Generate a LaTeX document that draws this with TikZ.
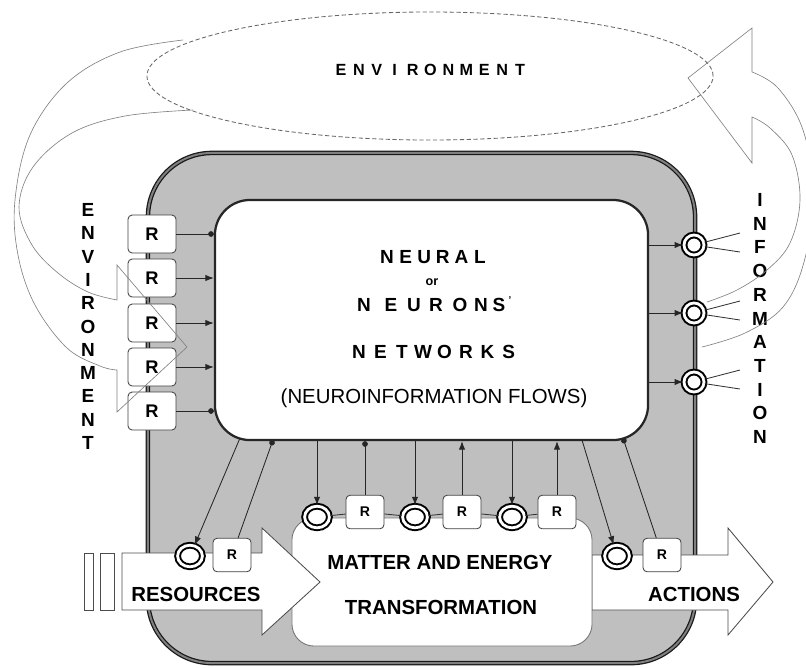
\documentclass[tikz,border=0pt]{standalone}
\usepackage{fontspec}
\setmainfont{Liberation Sans}
\usetikzlibrary{positioning,shapes.geometric,arrows.meta}
\tikzset{
  cell/.style={draw=black!90, line width=0.9pt, double=black!50, double distance=1.4pt,
    fill=black!25, rounded corners=1.6cm, minimum width=13.675cm, minimum height=12.75cm},
  netbox/.style={draw=black!85, line width=1.6pt, fill=white, rounded corners=0.875cm,
    minimum width=10.825cm, minimum height=6cm},
  matterbox/.style={draw=black!55, line width=0.6pt, fill=white, rounded corners=0.55cm,
    minimum width=7.5cm, minimum height=3.2cm},
  rbox/.style={draw=black!75, line width=0.6pt, fill=white, rounded corners=3pt, inner sep=0pt,
    minimum width=1.2cm, minimum height=0.95cm, font=\bfseries\fontsize{13}{13}\selectfont},
  rsmall/.style={rbox, minimum width=0.95cm, minimum height=0.84cm,
    font=\bfseries\fontsize{10}{10}\selectfont},
  soma/.style={ellipse, draw=black, line width=1.4pt, double=white, double distance=2pt,
    fill=white, minimum width=0.62cm, minimum height=0.54cm, inner sep=0pt},
  outsoma/.style={soma, circle, minimum size=0.5cm},
  arrowbody/.style={draw=black!70, line width=0.6pt, fill=white},
  sig/.style={draw=black!85, line width=0.6pt, -{Latex[length=6pt,width=4.5pt]}},
  syn/.style={draw=black!85, line width=0.6pt, -{Circle[length=4pt]}},
  synstart/.style={draw=black!85, line width=0.6pt, {Circle[length=4pt]}-},
  wire/.style={draw=black!80, line width=0.6pt},
  letter/.style={inner sep=0pt, font=\bfseries\fontsize{13.5}{13.5}\selectfont},
  smallletter/.style={inner sep=0pt, font=\bfseries\fontsize{11.5}{11.5}\selectfont},
  biglabel/.style={inner sep=0pt, font=\bfseries\fontsize{14.5}{15}\selectfont},
  loopline/.style={draw=black!50, line width=0.45pt},
}
\begin{document}
\begin{tikzpicture}[x=0.025cm, y=-0.025cm]
    \useasboundingbox (0,0) rectangle (806,667);
    \def\rowSoma{517}
    \def\rowR{512}
    % environment ring
    \node[ellipse, draw=black!60, line width=0.6pt, dash pattern=on 3pt off 1.8pt,
      minimum width=14.15cm, minimum height=3.2cm] (env) at (430,76) {};
    \foreach \ch [count=\i from 0] in {E,N,V,I,R,O,N,M,E,N,T}
        \node[smallletter] (envt\i) at (341+17.9*\i,70) {\ch};
    % cell and its parts
    \node[cell] (cell) at (421.5,408) {};
    \node[netbox] (nn) at (431.5,320) {};
    \node[matterbox] (mat) at (442,582) {};
    % resources and actions
    \draw[arrowbody] (84,553) rectangle (93,610);
    \draw[arrowbody] (100,553) rectangle (114,610);
    \draw[arrowbody] (122,553) -- (262,553) -- (262,528) -- (320,582) -- (262,635)
        -- (262,610) -- (122,610) -- cycle;
    \fill[white] (593,555) -- (728,555) -- (728,528) -- (773,582) -- (728,635)
        -- (728,610) -- (593,610) -- cycle;
    \draw[arrowbody, fill=none] (592,555) -- (728,555) -- (728,528) -- (773,582)
        -- (728,635) -- (728,610) -- (592,610);
    \node[soma] (rc) at (190,556) {};
    \node[rsmall] (rr) at (232,555) {R};
    \node[soma] (ac) at (617,556) {};
    \node[rsmall] (ar) at (662,555) {R};
    % receptors on the left
    \foreach \i/\yy in {1/234, 2/278, 3/323, 4/367, 5/411}
        \node[rbox] (in\i) at (152,\yy) {R};
    \draw[syn] (in1) -- (in1 -| nn.west);
    \draw[sig] (in2) -- (in2 -| nn.west);
    \draw[sig] (in3) -- (in3 -| nn.west);
    \draw[sig] (in4) -- (in4 -| nn.west);
    \draw[syn] (in5) -- (in5 -| nn.west);
    % outputs on the right
    \foreach \i/\yy in {1/245, 2/313, 3/382} {
        \node[outsoma] (g\i) at (694,\yy) {};
        \coordinate (fa\i) at (740,\yy-12);
        \coordinate (fb\i) at (740,\yy+7);
        \draw[sig] (g\i -| nn.east) -- (g\i);
        \draw[wire] (g\i) -- (fa\i);
        \draw[wire] (g\i) -- (fb\i);
    }
    % row on the transformation box
    \foreach \i/\cx/\rx in {1/317/365, 2/415/462, 3/512/557} {
        \node[soma] (c\i) at (\cx,\rowSoma) {};
        \node[rsmall] (r\i) at (\rx,\rowR) {R};
    }
    \foreach \a/\b in {c1/r1, r1/c2, c2/r2, r2/c3, c3/r3}
        \draw[wire] (\a) -- (\b);
    \foreach \i in {1,2,3}
        \draw[sig] (c\i |- nn.south) -- (c\i);
    \draw[syn] (r1) -- (r1 |- nn.south);
    \draw[sig] (r2) -- (r2 |- nn.south);
    \draw[sig] (r3) -- (r3 |- nn.south);
    % diagonal links
    \coordinate (dl1) at (240,438);
    \coordinate (dl2) at (273,440);
    \coordinate (dr1) at (582,440);
    \coordinate (dr2) at (623,438);
    \draw[sig] (dl1) -- (rc);
    \draw[synstart] (dl2) -- (rr);
    \draw[sig] (dr1) -- (ac);
    \draw[synstart] (dr2) -- (ar);
    % texts
    \foreach \ch [count=\i from 0] in {N,E,U,R,A,L}
        \node[letter] (nl\i) at (387+18.6*\i,257) {\ch};
    \node[inner sep=0pt, font=\bfseries\fontsize{9}{9}\selectfont] (ortxt) at (432,282) {or};
    \foreach \ch/\xx [count=\i] in {N/364, E/391, U/414, R/436, O/460, N/481, S/499}
        \node[letter] (ns\i) at (\xx,305) {\ch};
    \node[inner sep=0pt, font=\bfseries\fontsize{7}{7}\selectfont] (apos) at (510,300) {'};
    \foreach \ch [count=\i from 0] in {N,E,T,W,O,R,K,S}
        \node[letter] (nw\i) at (359+21.4*\i,352) {\ch};
    \node[inner sep=0pt, font=\fontsize{14.5}{15}\selectfont] (flowtxt) at (434,398)
        {(NEUROINFORMATION FLOWS)};
    \node[biglabel] (mattxt) at (440,562) {MATTER AND ENERGY};
    \node[biglabel] (transtxt) at (441,607) {TRANSFORMATION};
    \node[biglabel] (restxt) at (196,594) {RESOURCES};
    \node[biglabel] (acttxt) at (694,594) {ACTIONS};
    \foreach \ch [count=\i from 0] in {E,N,V,I,R,O,N,M,E,N,T}
        \node[letter] (envl\i) at (88,210+23.3*\i) {\ch};
    \foreach \ch [count=\i from 0] in {I,N,F,O,R,M,A,T,I,O,N}
        \node[letter] (infl\i) at (760,200+23.7*\i) {\ch};
    % loops through the environment
    \draw[loopline] plot[smooth, tension=0.6] coordinates {(183,40) (120,52) (67,83) (30,135)
        (15,200) (18,255) (35,305) (67,348) (100,366) (117,370)}
        -- (117,412) -- (187,347) -- (117,265) -- (117,300)
        -- plot[smooth, tension=0.6] coordinates {(117,300) (88,292) (58,273) (32,245)
        (19,207) (33,167) (72,133) (125,116) (193,110)};
    \draw[loopline] plot[smooth, tension=0.6] coordinates {(707,302) (737,290) (767,270)
        (790,243) (800,200) (792,155) (770,128) (752,117)}
        -- (752,163) -- (688,78) -- (752,28) -- (752,72)
        -- plot[smooth, tension=0.6] coordinates {(752,72) (778,88) (803,130) (814,195)
        (804,262) (783,307) (745,333) (702,347)};
\end{tikzpicture}
\end{document}
